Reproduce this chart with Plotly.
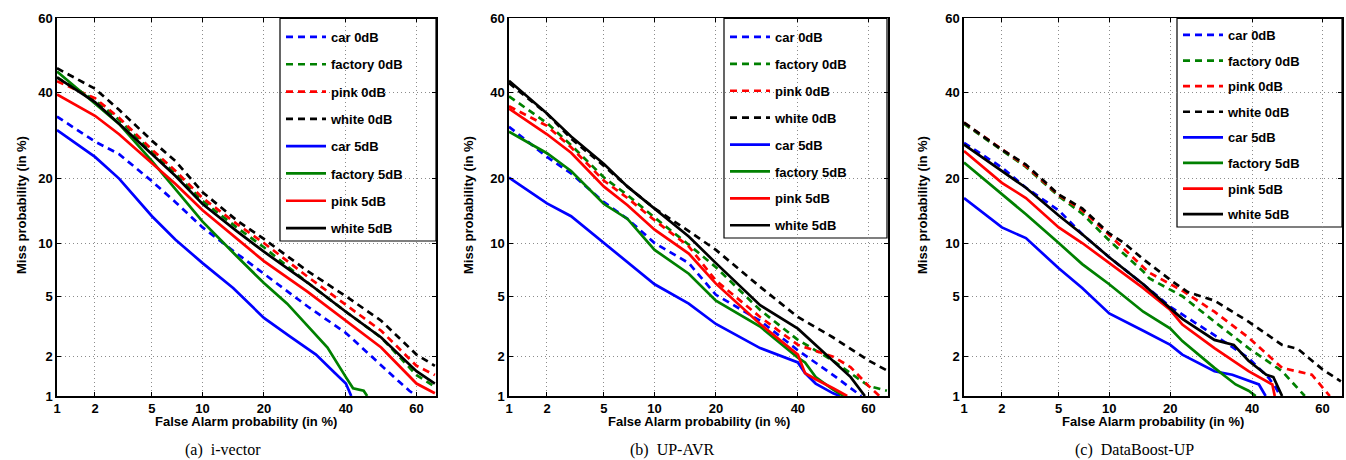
import plotly.graph_objects as go
from statistics import NormalDist

_ND = NormalDist()


def probit(p):
    return _ND.inv_cdf(p / 100.0)


# ---------------- axis ticks ----------------
TICK_VALUES = [1, 2, 5, 10, 20, 40, 60]
TICK_LABELS = ["1", "2", "5", "10", "20", "40", "60"]
X_LIMITS = [1, 65.3]
Y_LIMITS = [1, 60]

SERIES = ["car 0dB", "factory 0dB", "pink 0dB", "white 0dB",
          "car 5dB", "factory 5dB", "pink 5dB", "white 5dB"]
CAPTIONS = ["(a)  i-vector", "(b)  UP-AVR", "(c)  DataBoost-UP"]

# ---------------- panel (a) i-vector ----------------
A_CAR0_FA = [1, 2, 3, 5, 7, 10, 15, 20, 30, 40, 50, 55, 58, 60]
A_CAR0_MISS = [33.8, 27.8, 25, 19.5, 15.8, 12, 8.8, 6.8, 4.3, 2.9, 1.7, 1.3, 1.1, 1.0]
A_FAC0_FA = [1, 2, 3, 5, 7, 10, 15, 20, 30, 40, 50, 60, 65]
A_FAC0_MISS = [44, 38, 33, 25.5, 21, 16, 12, 9.5, 6, 4.0, 2.7, 1.45, 1.18]
A_PINK0_FA = [1, 2, 3, 5, 7, 10, 15, 20, 30, 40, 50, 60, 65]
A_PINK0_MISS = [43, 38.5, 33.5, 26, 21.5, 16.5, 12.5, 10, 6.5, 4.4, 3.0, 1.7, 1.45]
A_WHITE0_FA = [1, 2, 3, 5, 7, 10, 15, 20, 30, 40, 50, 60, 65]
A_WHITE0_MISS = [46.5, 41, 35.5, 28, 23.5, 17.5, 13, 10.5, 7, 5, 3.5, 2.05, 1.7]
A_CAR5_FA = [1, 2, 3, 5, 7, 10, 14.4, 20, 25.6, 32, 36.5, 40, 41.5]
A_CAR5_MISS = [30.5, 24.4, 20, 13.6, 10.4, 7.8, 5.6, 3.65, 2.75, 2.05, 1.55, 1.25, 1.0]
A_FAC5_FA = [1, 2, 3, 5, 7, 10, 15, 20, 25, 30, 35, 40, 42, 45, 46]
A_FAC5_MISS = [45.6, 37, 32, 23.5, 18, 12.8, 8.5, 6.0, 4.5, 3.2, 2.3, 1.4, 1.15, 1.1, 1.0]
A_PINK5_FA = [1, 2, 3, 5, 7, 10, 15, 20, 30, 40, 50, 60, 65]
A_PINK5_MISS = [39.5, 34, 29.5, 23, 19, 14.5, 10.5, 8.0, 5.3, 3.5, 2.3, 1.25, 1.05]
A_WHITE5_FA = [1, 2, 3, 5, 7, 10, 15, 20, 30, 40, 50, 60, 65]
A_WHITE5_MISS = [44, 37.5, 32, 25, 20.5, 15.5, 11.5, 9, 6, 4.0, 2.7, 1.55, 1.25]

# ---------------- panel (b) UP-AVR ----------------
B_CAR0_FA = [1, 2, 3, 5, 7, 10, 15, 20, 30, 40, 50, 55, 58]
B_CAR0_MISS = [31.3, 24.4, 21, 15.8, 13.2, 10, 7.8, 5.1, 3.5, 2.2, 1.45, 1.15, 1.0]
B_FAC0_FA = [1, 2, 3, 5, 7, 10, 15, 20, 30, 40, 50, 60, 65]
B_FAC0_MISS = [39, 32.2, 27, 20.2, 17, 13.4, 9.8, 7.4, 4.1, 2.6, 1.85, 1.2, 1.1]
B_PINK0_FA = [1, 2, 3, 5, 7, 10, 15, 20, 30, 40, 50, 55, 60, 63]
B_PINK0_MISS = [36.4, 31.5, 26.5, 19.6, 16.5, 13.0, 9.6, 6.2, 3.7, 2.4, 1.98, 1.66, 1.2, 1.0]
B_WHITE0_FA = [1, 2, 3, 5, 7, 10, 15, 20, 30, 40, 50, 60, 65]
B_WHITE0_MISS = [42.5, 34.5, 28.5, 22.5, 18.5, 14.8, 11.5, 9.2, 5.7, 3.7, 2.7, 1.86, 1.57]
B_CAR5_FA = [1, 2, 3, 5, 7, 10, 15, 20, 30, 40, 42, 45, 50, 52]
B_CAR5_MISS = [20.2, 15.6, 13.6, 10, 7.8, 5.9, 4.5, 3.33, 2.28, 1.8, 1.5, 1.25, 1.05, 1.0]
B_FAC5_FA = [1, 2, 3, 5, 7, 10, 15, 20, 30, 40, 42, 45, 50, 53]
B_FAC5_MISS = [30.1, 25.2, 21.5, 15.5, 13.2, 9.2, 6.8, 4.7, 3.2, 1.95, 1.8, 1.4, 1.12, 1.0]
B_PINK5_FA = [1, 2, 3, 5, 7, 10, 15, 20, 30, 40, 42, 45, 50, 54]
B_PINK5_MISS = [35.8, 29.5, 25.3, 18.5, 15.3, 11.7, 8.8, 5.95, 3.33, 2.05, 1.5, 1.35, 1.15, 1.0]
B_WHITE5_FA = [1, 2, 3, 5, 7, 10, 15, 20, 30, 40, 50, 55, 59]
B_WHITE5_MISS = [43.1, 34.6, 29, 22.9, 18.5, 14.8, 10.8, 7.8, 4.4, 3.1, 1.85, 1.4, 1.0]

# ---------------- panel (c) DataBoost-UP ----------------
C_CAR0_FA = [1, 2, 3, 5, 7, 10, 15, 20, 30, 39, 44.7, 46.7, 48]
C_CAR0_MISS = [27.5, 22.2, 18.3, 14.5, 11.1, 8.4, 5.9, 4.3, 2.8, 1.94, 1.38, 1.16, 1.0]
C_FAC0_FA = [1, 2, 3, 5, 7, 10, 15, 16, 22.5, 30, 39, 48.5, 55]
C_FAC0_MISS = [32, 25.8, 22.3, 16.8, 14.0, 10.3, 7.0, 6.4, 5.0, 3.45, 2.28, 1.55, 1.0]
C_PINK0_FA = [1, 2, 3, 5, 7, 10, 15, 16, 22.5, 30, 39, 48.5, 57, 62]
C_PINK0_MISS = [32.3, 26, 22.5, 17, 14.5, 11, 7.4, 6.9, 5.4, 4.0, 2.7, 1.64, 1.46, 1.0]
C_WHITE0_FA = [1, 2, 3, 5, 7, 10, 12, 15, 20.5, 23.7, 30, 39, 48.5, 53, 60, 65]
C_WHITE0_MISS = [32.3, 26, 22.8, 17.1, 14.8, 11.2, 10, 8.2, 6.1, 5.3, 4.7, 3.45, 2.4, 2.25, 1.6, 1.3]
C_CAR5_FA = [1, 2, 3, 5, 7, 10, 15, 20, 22.5, 30, 34.6, 41.9, 43.8]
C_CAR5_MISS = [16.5, 12, 10.6, 7.3, 5.6, 3.9, 3.0, 2.4, 2.05, 1.55, 1.46, 1.23, 1.0]
C_FAC5_FA = [1, 2, 3, 5, 7, 10, 15, 20, 22.5, 30, 35.5, 39, 41]
C_FAC5_MISS = [23.2, 17.1, 13.9, 10, 7.7, 5.9, 4.0, 3.1, 2.55, 1.64, 1.23, 1.1, 1.0]
C_PINK5_FA = [1, 2, 3, 5, 7, 10, 15, 20, 22.5, 30, 39, 45.7, 46.4]
C_PINK5_MISS = [25.7, 19.2, 16.5, 12, 10, 7.8, 5.6, 4.1, 3.3, 2.28, 1.55, 1.23, 1.0]
C_WHITE5_FA = [1, 2, 3, 5, 7, 10, 15, 20, 22.5, 30, 35, 39, 44, 46, 48.5]
C_WHITE5_MISS = [27.1, 21.4, 18.3, 13.7, 11.1, 8.4, 5.9, 4.2, 3.6, 2.6, 2.4, 1.85, 1.46, 1.4, 1.0]

PANELS = [
    [(A_CAR0_FA, A_CAR0_MISS), (A_FAC0_FA, A_FAC0_MISS), (A_PINK0_FA, A_PINK0_MISS), (A_WHITE0_FA, A_WHITE0_MISS),
     (A_CAR5_FA, A_CAR5_MISS), (A_FAC5_FA, A_FAC5_MISS), (A_PINK5_FA, A_PINK5_MISS), (A_WHITE5_FA, A_WHITE5_MISS)],
    [(B_CAR0_FA, B_CAR0_MISS), (B_FAC0_FA, B_FAC0_MISS), (B_PINK0_FA, B_PINK0_MISS), (B_WHITE0_FA, B_WHITE0_MISS),
     (B_CAR5_FA, B_CAR5_MISS), (B_FAC5_FA, B_FAC5_MISS), (B_PINK5_FA, B_PINK5_MISS), (B_WHITE5_FA, B_WHITE5_MISS)],
    [(C_CAR0_FA, C_CAR0_MISS), (C_FAC0_FA, C_FAC0_MISS), (C_PINK0_FA, C_PINK0_MISS), (C_WHITE0_FA, C_WHITE0_MISS),
     (C_CAR5_FA, C_CAR5_MISS), (C_FAC5_FA, C_FAC5_MISS), (C_PINK5_FA, C_PINK5_MISS), (C_WHITE5_FA, C_WHITE5_MISS)],
]

# ---------------- styling ----------------
W, H = 1346, 460
COLORS = ["#0000FF", "#008000", "#FF0000", "#000000"] * 2
DASHES = ["7px,5px"] * 4 + ["solid"] * 4
SANS = "Liberation Sans, Arial, Helvetica, sans-serif"
SERIF = "Liberation Serif, Times New Roman, serif"

X_PIX = [(57, 436), (509, 888), (964, 1342)]
Y_TOP, Y_BOT = 18.3, 396.0
Y_DOMAIN = [1 - Y_BOT / H, 1 - Y_TOP / H]
CAPTION_X = [223, 672, 1134]
YTITLE_X = [21, 468, 922]
LEGEND_NAMES = ["legend", "legend2", "legend3"]
# legend boxes (left, right, bottom) in px, first row centre, row pitch
LEGEND_BOX = [(280, 436, 241), (724, 887, 238), (1177, 1342, 227)]
LEGEND_ROW0 = [35, 35, 33]
LEGEND_GAP = [7.4, 7.0, 5.7]

fig = go.Figure()
for pi, panel in enumerate(PANELS):
    sfx = "" if pi == 0 else str(pi + 1)
    for si, (fa, miss) in enumerate(panel):
        fig.add_trace(go.Scatter(
            x=[probit(v) for v in fa],
            y=[probit(v) for v in miss],
            mode="lines",
            name=SERIES[si],
            legend=LEGEND_NAMES[pi],
            legendgroup=f"p{pi}s{si}",
            line=dict(color=COLORS[si], width=2.7, dash=DASHES[si]),
            xaxis="x" + sfx, yaxis="y" + sfx,
            showlegend=True,
        ))

layout = dict(
    width=W, height=H,
    margin=dict(l=0, r=0, t=0, b=0, autoexpand=False),
    paper_bgcolor="white", plot_bgcolor="white",
    font=dict(family=SANS, size=13, color="black"),
    annotations=[], shapes=[],
)

tick_pos = [probit(v) for v in TICK_VALUES]
for pi in range(3):
    sfx = "" if pi == 0 else str(pi + 1)
    x0, x1 = X_PIX[pi]
    common = dict(
        showline=True, linecolor="black", linewidth=1.6, mirror="allticks",
        ticks="inside", ticklen=4, tickcolor="black", tickwidth=1,
        showgrid=True, gridcolor="#8c8c8c", gridwidth=1, griddash="1px,3px",
        zeroline=False, tickvals=tick_pos, ticktext=TICK_LABELS,
        tickfont=dict(family=SANS, size=13, color="black", weight="bold"),
        fixedrange=True, automargin=False,
    )
    layout["xaxis" + sfx] = dict(
        common, domain=[x0 / W, x1 / W],
        range=[probit(X_LIMITS[0]), probit(X_LIMITS[1])],
        anchor="y" + sfx,
    )
    layout["yaxis" + sfx] = dict(
        common, domain=Y_DOMAIN,
        range=[probit(Y_LIMITS[0]), probit(Y_LIMITS[1])],
        anchor="x" + sfx,
    )
    bl, br, bb = LEGEND_BOX[pi]
    layout["shapes"].append(dict(
        type="rect", xref="paper", yref="paper", layer="between",
        x0=bl / W, x1=br / W, y0=1 - bb / H, y1=1 - Y_TOP / H,
        fillcolor="white", line=dict(color="black", width=1.2),
    ))
    layout[LEGEND_NAMES[pi]] = dict(
        x=(bl + 1) / W, xanchor="left",
        y=1 - (LEGEND_ROW0[pi] - 13) / H, yanchor="top",
        bgcolor="rgba(0,0,0,0)", borderwidth=0,
        font=dict(family=SANS, size=13, color="black", weight="bold"),
        itemwidth=40, traceorder="grouped", tracegroupgap=LEGEND_GAP[pi],
    )
    layout["annotations"].append(dict(
        text="False Alarm probability (in %)", xref="paper", yref="paper",
        x=(x0 + x1) / 2 / W, y=1 - 421.7 / H, showarrow=False,
        xanchor="center", yanchor="middle",
        font=dict(family=SANS, size=13, color="black", weight="bold"),
    ))
    layout["annotations"].append(dict(
        text="Miss probability (in %)", xref="paper", yref="paper",
        x=YTITLE_X[pi] / W, y=1 - 205 / H, showarrow=False, textangle=-90,
        xanchor="center", yanchor="middle",
        font=dict(family=SANS, size=13, color="black", weight="bold"),
    ))
    layout["annotations"].append(dict(
        text=CAPTIONS[pi], xref="paper", yref="paper",
        x=CAPTION_X[pi] / W, y=1 - 450 / H, showarrow=False,
        xanchor="center", yanchor="middle",
        font=dict(family=SERIF, size=16, color="black"),
    ))

fig.update_layout(**layout)
fig.write_html("out.html", config={"displayModeBar": False, "staticPlot": True})

# remove the browser's default page margin so the figure sits at (0, 0)
with open("out.html", "r", encoding="utf-8") as fh:
    page = fh.read()
page = page.replace("<head>", "<head><style>html,body{margin:0;padding:0;overflow:hidden;}</style>", 1)
with open("out.html", "w", encoding="utf-8") as fh:
    fh.write(page)
